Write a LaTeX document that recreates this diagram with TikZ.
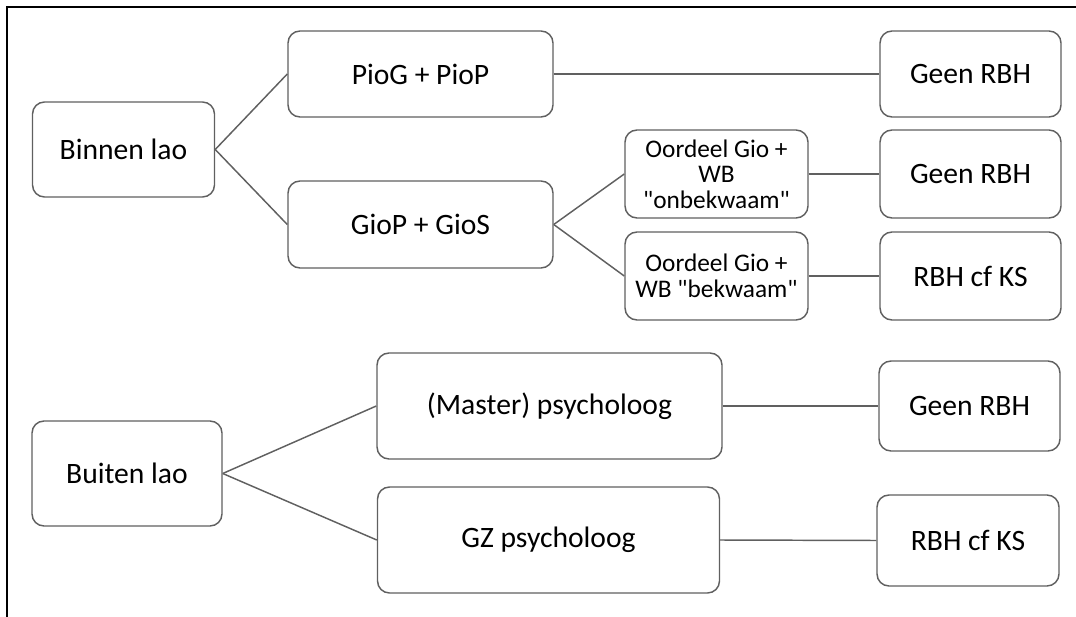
\documentclass[tikz,border=0pt]{standalone}
\usepackage{fontspec}
\setmainfont{Carlito}
\definecolor{boxline}{RGB}{96,96,96}
\tikzset{
  rbox/.style={draw=boxline, line width=1.1pt, rounded corners=9pt, fill=white, inner sep=2pt, align=center, font=\fontsize{22.2}{26}\selectfont},
  sbox/.style={rbox, font=\fontsize{19}{19.2}\selectfont},
  link/.style={draw=boxline, line width=1.1pt}
}
\begin{document}
\begin{tikzpicture}[x=0.75pt,y=0.75pt,yscale=-1,xscale=1]
\useasboundingbox (0,0) rectangle (1076,617);

%Frame
\draw [line width=1.2pt] (1076,7) -- (7,7) -- (7,617) ;

%Rounded Rect - binnen
\node [rbox, minimum width=136.5pt, minimum height=71.25pt] (binnen) at (123.5,149.5) {Binnen lao};
\node [rbox, minimum width=198.75pt, minimum height=64.5pt] (piog) at (420.5,74) {PioG + PioP};
\node [rbox, minimum width=135.75pt, minimum height=64.5pt] (geenA) at (970.5,74) {Geen RBH};
\node [rbox, minimum width=198.75pt, minimum height=65.25pt] (giop) at (420.5,224.5) {GioP + GioS};
\node [sbox, minimum width=137.25pt, minimum height=66pt] (onbekwaam) at (716.5,174) {Oordeel Gio +\\WB\\\textquotedbl onbekwaam\textquotedbl};
\node [rbox, minimum width=135.75pt, minimum height=66pt] (geenB) at (970.5,174) {Geen RBH};
\node [sbox, minimum width=137.25pt, minimum height=66pt] (bekwaam) at (716.5,276) {Oordeel Gio +\\WB \textquotedbl bekwaam\textquotedbl};
\node [rbox, minimum width=135.75pt, minimum height=66pt] (rbhA) at (970.5,276) {RBH cf KS};

%Rounded Rect - buiten
\node [rbox, minimum width=142.5pt, minimum height=78.75pt] (buiten) at (127,473.5) {Buiten lao};
\node [rbox, minimum width=258.75pt, minimum height=79.5pt] (master) at (549.5,406) {(Master) psycholoog};
\node [rbox, minimum width=135.75pt, minimum height=67.5pt] (geenC) at (969.5,406) {Geen RBH};
\node [rbox, minimum width=256.5pt, minimum height=79.5pt] (gz) at (548.5,540) {GZ psycholoog};
\node [rbox, minimum width=136.5pt, minimum height=68.25pt] (rbhB) at (968,540.5) {RBH cf KS};

%Straight Lines
\draw [link] (binnen.east) -- (piog.west) ;
\draw [link] (binnen.east) -- (giop.west) ;
\draw [link] (piog.east) -- (geenA.west) ;
\draw [link] (giop.east) -- (onbekwaam.west) ;
\draw [link] (giop.east) -- (bekwaam.west) ;
\draw [link] (onbekwaam.east) -- (geenB.west) ;
\draw [link] (bekwaam.east) -- (rbhA.west) ;
\draw [link] (buiten.east) -- (master.west) ;
\draw [link] (buiten.east) -- (gz.west) ;
\draw [link] (master.east) -- (geenC.west) ;
\draw [link] (gz.east) -- (rbhB.west) ;

\end{tikzpicture}
\end{document}
